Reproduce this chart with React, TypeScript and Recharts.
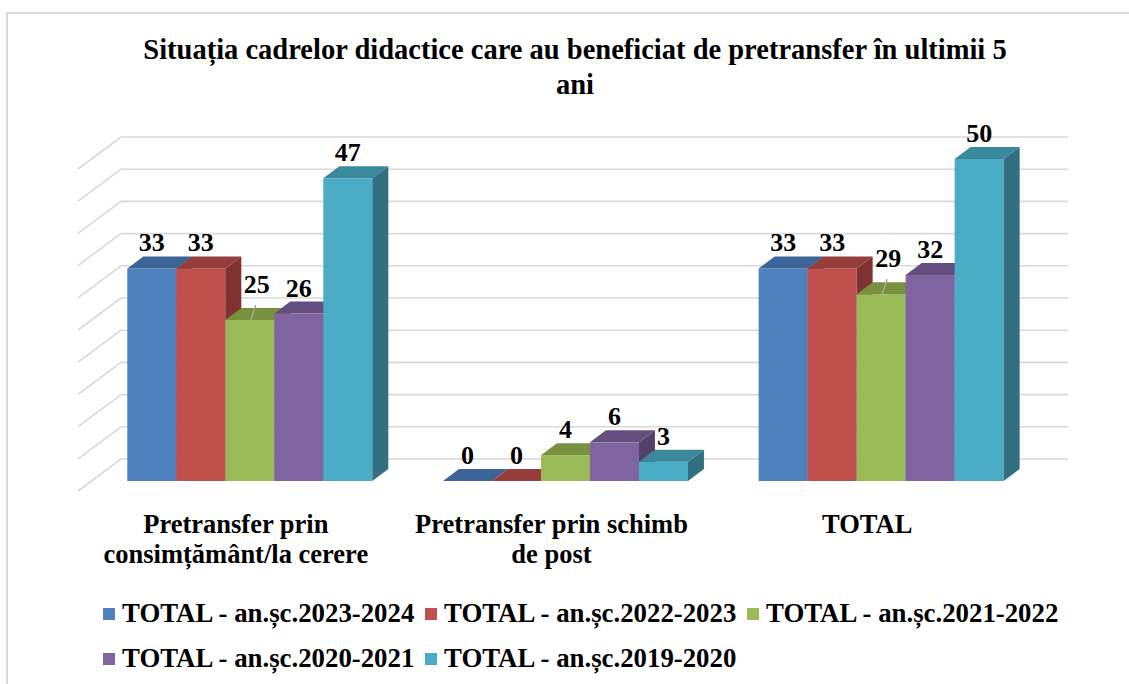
import React from 'react';
import { BarChart, Bar, XAxis, YAxis, CartesianGrid, LabelList } from 'recharts';

// ---------- data ----------
const titleLines = ['Situația cadrelor didactice care au beneficiat de pretransfer în ultimii 5', 'ani'];
const categories = [
  'Pretransfer prin consimțământ/la cerere',
  'Pretransfer prin schimb de post',
  'TOTAL',
];
const seriesNames = [
  'TOTAL - an.șc.2023-2024',
  'TOTAL - an.șc.2022-2023',
  'TOTAL - an.șc.2021-2022',
  'TOTAL - an.șc.2020-2021',
  'TOTAL - an.șc.2019-2020',
];
const values2023_2024 = [33, 0, 33];
const values2022_2023 = [33, 0, 33];
const values2021_2022 = [25, 4, 29];
const values2020_2021 = [26, 6, 32];
const values2019_2020 = [47, 3, 50];
const yTicks = [0, 5, 10, 15, 20, 25, 30, 35, 40, 45, 50];

const seriesValues = [values2023_2024, values2022_2023, values2021_2022, values2020_2021, values2019_2020];

// ---------- styles ----------
const FONT = "'Liberation Serif', 'Times New Roman', serif";
const frontColors = ['#4f81bd', '#c0504d', '#9bbb59', '#8064a2', '#4bacc6'];
const topColors = ['#3c6597', '#953d3b', '#77913f', '#644e80', '#3a889b'];
const sideColors = ['#345884', '#7f3230', '#637a34', '#53416a', '#32707f'];
const BAR_DX = 16;
const BAR_DY = -12;
const WALL_FRONT_DX = -13;
const WALL_FRONT_DY = 10;
const WALL_BACK_DX = 30;
const WALL_BACK_DY = -22;
const GRID_COLOR = '#d9d9d9';
const TICK_FONT_SIZE = 26.5;
const TICK_WRAP_WIDTH = 285;

const chartData = categories.map((c, i) => {
  const row: any = { category: c };
  seriesValues.forEach((vals, s) => {
    row['s' + s] = vals[i];
  });
  return row;
});

let measureCtx: CanvasRenderingContext2D | null = null;
const measure = (txt: string) => {
  if (!measureCtx && typeof document !== 'undefined') {
    measureCtx = document.createElement('canvas').getContext('2d');
  }
  if (!measureCtx) return txt.length * TICK_FONT_SIZE * 0.5;
  measureCtx.font = `bold ${TICK_FONT_SIZE}px ${FONT}`;
  return measureCtx.measureText(txt).width;
};

const wrapWords = (txt: string, maxW: number) => {
  const words = txt.split(' ');
  const lines: string[] = [];
  let cur = '';
  words.forEach((w) => {
    const test = cur ? cur + ' ' + w : w;
    if (cur && measure(test) > maxW) {
      lines.push(cur);
      cur = w;
    } else {
      cur = test;
    }
  });
  if (cur) lines.push(cur);
  return lines;
};

const make3DShape = (s: number) => (props: any) => {
  const x = Number(props.x);
  const y = Number(props.y);
  const w = Number(props.width);
  const h = Number(props.height) || 0;
  if (!isFinite(x) || !isFinite(y) || !isFinite(w)) return <g />;
  const top = `${x},${y} ${x + BAR_DX},${y + BAR_DY} ${x + w + BAR_DX},${y + BAR_DY} ${x + w},${y}`;
  const side = `${x + w},${y} ${x + w + BAR_DX},${y + BAR_DY} ${x + w + BAR_DX},${y + h + BAR_DY} ${x + w},${y + h}`;
  return (
    <g>
      {h > 0 && <rect x={x} y={y} width={w} height={h} fill={frontColors[s]} />}
      <polygon points={side} fill={sideColors[s]} />
      <polygon points={top} fill={topColors[s]} />
    </g>
  );
};

const makeLabel = (s: number) => (props: any) => {
  const vb = props.viewBox || {};
  const x = Number(props.x ?? vb.x);
  const y = Number(props.y ?? vb.y);
  const w = Number(props.width ?? vb.width);
  const idx = props.index;
  const value = props.value;
  const cx = x + w / 2;
  const prev = s > 0 ? seriesValues[s - 1][idx] : -1;
  const lifted = s === 2 && prev > value;
  if (lifted) {
    return (
      <g>
        <line x1={cx + 1} y1={y} x2={cx + 6} y2={y - 15} stroke="#a6a6a6" strokeWidth={1.5} />
        <text x={cx + 7} y={y - 27} textAnchor="middle" fontFamily={FONT} fontWeight="bold" fontSize={26} fill="#000">
          {value}
        </text>
      </g>
    );
  }
  return (
    <text x={cx} y={y - 17} textAnchor="middle" fontFamily={FONT} fontWeight="bold" fontSize={26} fill="#000">
      {value}
    </text>
  );
};

const gridLine = (p: any) => {
  const { x1, y1, x2, index } = p;
  const bx = x1 + WALL_BACK_DX;
  const by = y1 + WALL_BACK_DY;
  return (
    <g key={`grid-${index}`}>
      <line x1={x1 + WALL_FRONT_DX} y1={y1 + WALL_FRONT_DY} x2={bx} y2={by} stroke={GRID_COLOR} strokeWidth={1.6} />
      <line x1={bx} y1={by} x2={x2 + WALL_BACK_DX} y2={by} stroke={GRID_COLOR} strokeWidth={1.6} />
    </g>
  );
};

const CategoryTick = (props: any) => {
  const { x, y, payload } = props;
  const lines = wrapWords(String(payload.value), TICK_WRAP_WIDTH);
  return (
    <text
      x={x + WALL_FRONT_DX}
      y={y + 52}
      textAnchor="middle"
      fontFamily={FONT}
      fontWeight="bold"
      fontSize={TICK_FONT_SIZE}
      fill="#000"
    >
      {lines.map((l, i) => (
        <tspan key={i} x={x + WALL_FRONT_DX} dy={i === 0 ? 0 : 30}>
          {l}
        </tspan>
      ))}
    </text>
  );
};

export default function App() {
  return (
    <div style={{ position: 'absolute', left: 0, top: 0, width: 1129, height: 684, overflow: 'hidden', background: '#fff' }}>
      <div
        style={{
          position: 'absolute',
          left: 6,
          top: 12,
          width: 1200,
          height: 800,
          border: '2px solid #d9d9d9',
        }}
      />
      <div
        style={{
          position: 'absolute',
          left: 75,
          top: 32,
          width: 1000,
          textAlign: 'center',
          fontFamily: FONT,
          fontWeight: 'bold',
          fontSize: 28.5,
          lineHeight: '35px',
          color: '#000',
        }}
      >
        {titleLines.map((t, i) => (
          <div key={i}>{t}</div>
        ))}
      </div>
      <div style={{ position: 'absolute', left: 0, top: 0 }}>
        <BarChart
          width={1129}
          height={684}
          data={chartData}
          margin={{ top: 159, right: 91, bottom: 103, left: 91 }}
          barCategoryGap="11.5%"
          barGap={0}
        >
          <CartesianGrid vertical={false} horizontal={gridLine} />
          <YAxis hide domain={[0, 50]} ticks={yTicks} type="number" />
          <XAxis
            dataKey="category"
            axisLine={false}
            tickLine={false}
            tickSize={0}
            tickMargin={0}
            height={100}
            interval={0}
            tick={<CategoryTick />}
          />
          {seriesNames.map((name, s) => (
            <Bar key={name} dataKey={'s' + s} name={name} fill={frontColors[s]} isAnimationActive={false} shape={make3DShape(s)}>
              <LabelList dataKey={'s' + s} content={makeLabel(s)} />
            </Bar>
          ))}
        </BarChart>
      </div>
      <div style={{ position: 'absolute', left: 103, top: 591, width: 1000 }}>
        {[0, 1].map((row) => (
          <div key={row} style={{ display: 'flex', height: 45, alignItems: 'center' }}>
            {seriesNames.slice(row * 3, row * 3 + 3).map((name, k) => {
              const s = row * 3 + k;
              return (
                <div key={name} style={{ display: 'flex', alignItems: 'center', width: 322 }}>
                  <div style={{ width: 12, height: 12, background: frontColors[s], marginRight: 7 }} />
                  <span style={{ fontFamily: FONT, fontWeight: 'bold', fontSize: 26.8, color: '#000', whiteSpace: 'nowrap' }}>
                    {name}
                  </span>
                </div>
              );
            })}
          </div>
        ))}
      </div>
    </div>
  );
}
